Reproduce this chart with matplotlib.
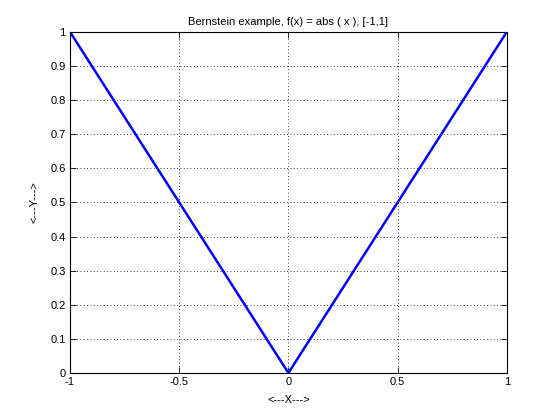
import matplotlib
matplotlib.use('Agg')
import matplotlib.pyplot as plt

x_vals = [-1.0, -0.5, 0.0, 0.5, 1.0]
y_vals = [1.0, 0.5, 0.0, 0.5, 1.0]
x_ticks = [-1, -0.5, 0, 0.5, 1]
x_tick_labels = ['-1', '-0.5', '0', '0.5', '1']
y_ticks = [0, 0.1, 0.2, 0.3, 0.4, 0.5, 0.6, 0.7, 0.8, 0.9, 1]
y_tick_labels = ['0', '0.1', '0.2', '0.3', '0.4', '0.5', '0.6', '0.7', '0.8', '0.9', '1']

plt.rcParams['font.family'] = ['Liberation Sans', 'DejaVu Sans']
plt.rcParams['font.size'] = 8

fig = plt.figure(figsize=(5.6, 4.2), dpi=100)
ax = fig.add_axes([0.125, 0.112, 0.78, 0.812])
ax.plot(x_vals, y_vals, color='#0000ff', linewidth=1.8)

ax.set_xlim(-1, 1)
ax.set_ylim(0, 1)
ax.set_xticks(x_ticks)
ax.set_xticklabels(x_tick_labels)
ax.set_yticks(y_ticks)
ax.set_yticklabels(y_tick_labels)
ax.tick_params(direction='in', top=True, right=True, length=4, width=0.6, pad=3)
ax.grid(True, linestyle=(0, (1, 3)), color='black', linewidth=0.6)
for s in ax.spines.values():
    s.set_linewidth(0.8)

ax.set_title('Bernstein example, f(x) = abs ( x ), [-1,1]', fontsize=8, pad=5)
ax.set_xlabel('<---X--->', labelpad=6)
ax.set_ylabel('<---Y--->', labelpad=8)

fig.savefig('out.png', dpi=100)
